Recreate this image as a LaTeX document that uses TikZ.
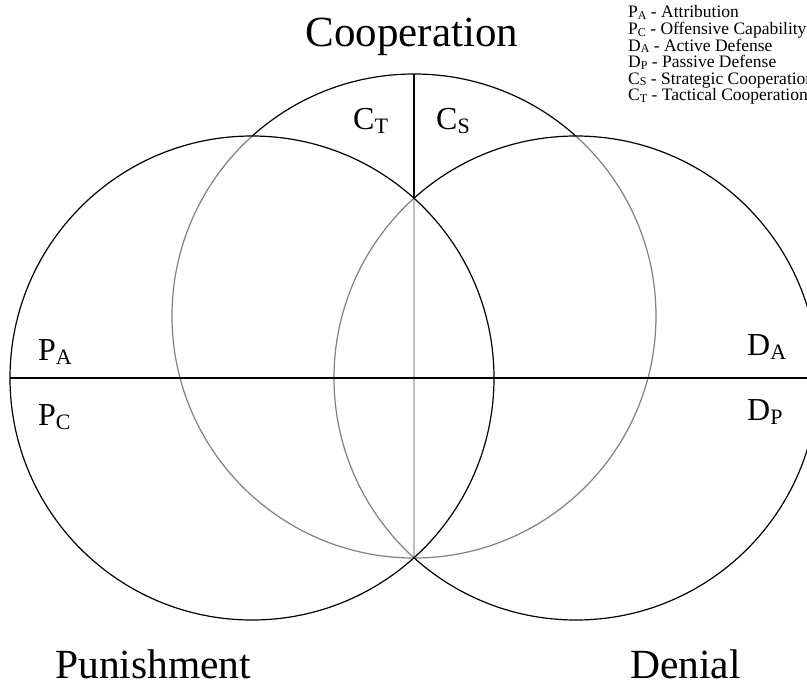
\documentclass[tikz,border=0pt]{standalone}
\usepackage{fontspec}
\setmainfont{Liberation Serif}
% letter with a lowered subscript, for the region labels and the key
\newcommand{\regionlbl}[2]{#1\raisebox{-4pt}{\fontsize{22}{22}\selectfont #2}}
\newcommand{\keylbl}[2]{#1\raisebox{-1.5pt}{\fontsize{12}{12}\selectfont #2}}
\begin{document}
\begin{tikzpicture}[x=1pt,y=-1pt,
  ring/.style={circle, draw=black, line width=1.2pt, fill=white,
    fill opacity=0.5, draw opacity=1, minimum size=484pt,
    inner sep=0pt, outer sep=0pt},
  divider/.style={draw=black, line width=1.2pt},
  title/.style={font=\fontsize{41.5}{41.5}\selectfont, anchor=base west, inner sep=0pt},
  region/.style={font=\fontsize{32}{32}\selectfont, anchor=base west, inner sep=0pt},
  key/.style={font=\fontsize{17.5}{17.5}\selectfont, anchor=base west, inner sep=0pt}]
\useasboundingbox (0,0) rectangle (807,685);
\clip (0,0) rectangle (807,685);

% cooperation circle with its split, drawn first so the others veil it
\node[ring] (coop) at (414,316) {};
\draw[divider] (coop.north) -- (coop.south);

% denial and punishment circles, each half-transparent white
\node[ring] (deny) at (576,378) {};
\node[ring] (pun) at (252,378) {};

% horizontal split through both lower circles
\draw[divider] (pun.west) -- (deny.east);

% circle titles
\node[title, font=\fontsize{43}{43}\selectfont, anchor=base] (tcoop) at (412,47) {Cooperation};
\node[title] (tpun) at (55,678) {Punishment};
\node[title] (tden) at (630,678) {Denial};

% region labels
\node[region] (ct) at (353,129) {\regionlbl{C}{T}};
\node[region] (cs) at (436,130) {\regionlbl{C}{S}};
\node[region] (pa) at (38,360) {\regionlbl{P}{A}};
\node[region] (pc) at (38,425) {\regionlbl{P}{C}};
\node[region] (da) at (747,355) {\regionlbl{D}{A}};
\node[region] (dp) at (747,420) {\regionlbl{D}{P}};

% key
\node[key] (k1) at (628,18)  {\keylbl{P}{A} - Attribution};
\node[key] (k2) at (628,35)  {\keylbl{P}{C} - Offensive Capability};
\node[key] (k3) at (628,51.5)  {\keylbl{D}{A} - Active Defense};
\node[key] (k4) at (628,68)  {\keylbl{D}{P} - Passive Defense};
\node[key] (k5) at (628,84.5)  {\keylbl{C}{S} - Strategic Cooperation};
\node[key] (k6) at (628,101) {\keylbl{C}{T} - Tactical Cooperation};
\end{tikzpicture}
\end{document}
